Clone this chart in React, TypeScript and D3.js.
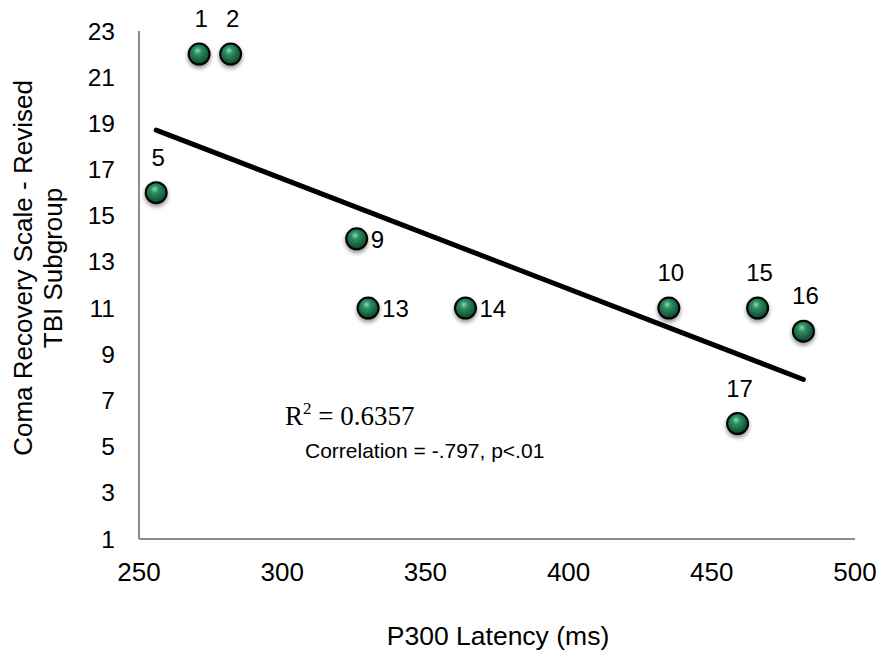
import React from "react";
import * as d3 from "d3";

const patientIds = ["1", "2", "5", "9", "13", "14", "10", "15", "16", "17"];
const latencyMs = [271, 282, 256, 326, 330, 364, 435, 466, 482, 459];
const crsScores = [22, 22, 16, 14, 11, 11, 11, 11, 10, 6];
const labelSides = ["top", "top", "top", "right", "right", "right", "top", "top", "top", "top"];
const xTicks = [250, 300, 350, 400, 450, 500];
const yTicks = [1, 3, 5, 7, 9, 11, 13, 15, 17, 19, 21, 23];
const yTitleLines = ["Coma Recovery Scale - Revised", "TBI Subgroup"];
const xTitle = "P300 Latency (ms)";
const r2Text = "0.6357";
const corrText = "Correlation = -.797, p<.01";

const W = 881;
const H = 659;
const FONT = "'Liberation Sans', Arial, sans-serif";

export default function App() {
  const x = d3.scaleLinear().domain([250, 500]).range([139, 855]);
  const y = d3.scaleLinear().domain([1, 23]).range([539, 31]);

  const pts = latencyMs.map((v, i) => ({ x: v, y: crsScores[i], id: patientIds[i], side: labelSides[i] }));
  const mx = d3.mean(pts, (p) => p.x) as number;
  const my = d3.mean(pts, (p) => p.y) as number;
  const sxy = d3.sum(pts, (p) => (p.x - mx) * (p.y - my));
  const sxx = d3.sum(pts, (p) => (p.x - mx) ** 2);
  const slope = sxy / sxx;
  const icpt = my - slope * mx;
  const [x0, x1] = d3.extent(pts, (p) => p.x) as [number, number];
  const trend = d3.line<number>().x((v) => x(v)).y((v) => y(icpt + slope * v))([x0, x1]) as string;

  return (
    <svg
      width={W}
      height={H}
      style={{ position: "absolute", left: 0, top: 0, background: "#fff" }}
      fontFamily={FONT}
    >
      <defs>
        <radialGradient id="ball" cx="0.45" cy="0.4" r="0.6" fx="0.42" fy="0.32">
          <stop offset="0" stopColor="#8fdab2" />
          <stop offset="0.3" stopColor="#2f8f62" />
          <stop offset="0.8" stopColor="#145a3a" />
          <stop offset="1" stopColor="#0b3a25" />
        </radialGradient>
        <filter id="shadow" x="-50%" y="-50%" width="200%" height="200%">
          <feDropShadow dx="0" dy="2.5" stdDeviation="2" floodColor="#000" floodOpacity="0.45" />
        </filter>
      </defs>
      <rect width={W} height={H} fill="#fff" />

      {/* axes */}
      <line x1={x(250)} x2={x(250)} y1={y(23)} y2={y(1)} stroke="#8c8c8c" strokeWidth={2} />
      <line x1={x(250)} x2={x(500)} y1={y(1)} y2={y(1)} stroke="#8c8c8c" strokeWidth={2} />

      {/* tick labels */}
      {yTicks.map((t) => (
        <text key={"y" + t} x={115} y={y(t)} textAnchor="end" dominantBaseline="central" fontSize={24.5} fill="#000">
          {t}
        </text>
      ))}
      {xTicks.map((t) => (
        <text key={"x" + t} x={x(t)} y={581} textAnchor="middle" fontSize={26} fill="#000">
          {t}
        </text>
      ))}

      {/* axis titles */}
      {yTitleLines.map((s, i) => (
        <text
          key={s}
          transform={`translate(${23 + i * 30},268) rotate(-90)`}
          textAnchor="middle"
          dominantBaseline="central"
          fontSize={26}
          fill="#000"
        >
          {s}
        </text>
      ))}
      <text x={498} y={645} textAnchor="middle" fontSize={26.5} fill="#000">
        {xTitle}
      </text>

      {/* trend line */}
      <path d={trend} stroke="#000" strokeWidth={5} fill="none" strokeLinecap="round" />

      {/* points */}
      {pts.map((p) => (
        <g key={p.id}>
          <circle
            cx={x(p.x)}
            cy={y(p.y)}
            r={10.5}
            fill="url(#ball)"
            stroke="#000"
            strokeWidth={2}
            filter="url(#shadow)"
          />
          {p.side === "top" ? (
            <text x={x(p.x) + 2} y={y(p.y) - 27} textAnchor="middle" fontSize={24} fill="#000">
              {p.id}
            </text>
          ) : (
            <text x={x(p.x) + 14} y={y(p.y) + 9} textAnchor="start" fontSize={24} fill="#000">
              {p.id}
            </text>
          )}
        </g>
      ))}

      {/* annotations */}
      <text x={285} y={425} fontFamily="'Liberation Serif', 'DejaVu Serif', serif" fontSize={27} fill="#000">
        R<tspan fontSize={17} dy={-11}>2</tspan>
        <tspan dy={11}> = {r2Text}</tspan>
      </text>
      <text x={305} y={458} fontSize={21} fill="#000">
        {corrText}
      </text>
    </svg>
  );
}
